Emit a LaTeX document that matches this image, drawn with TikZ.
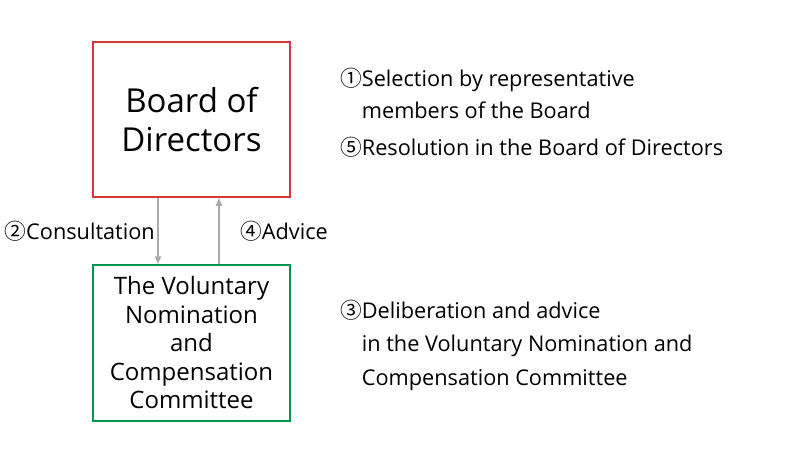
\documentclass[tikz,border=0pt]{standalone}
\usepackage{fontspec}
\setmainfont{Open Sans}
\newfontfamily\cjk{Noto Sans CJK JP}
\usetikzlibrary{arrows.meta}
\definecolor{boardred}{RGB}{214,56,56}
\definecolor{cmtgreen}{RGB}{0,150,80}
\definecolor{flowgray}{RGB}{170,170,170}
\tikzset{
  organ/.style={draw,line width=1.5pt,minimum width=197pt,align=center,inner sep=0pt},
  flow/.style={draw=flowgray,line width=1.8pt,-{Triangle[width=6pt,length=8pt]}},
  note/.style={anchor=base west,align=left,inner sep=0pt,font=\fontsize{21.7}{33.5}\selectfont}
}
\begin{document}
\begin{tikzpicture}[x=1pt,y=-1pt]
  \useasboundingbox[fill=white] (0,0) rectangle (800,450);
  % bodies
  \node[organ,draw=boardred,minimum height=155pt,font=\fontsize{33}{39}\selectfont]
    (board) at (191.5,119.5) {Board of\\Directors};
  \node[organ,draw=cmtgreen,minimum height=156pt,font=\fontsize{24}{28.5}\selectfont]
    (cmt) at (191.5,343) {The Voluntary\\Nomination\\and\\Compensation\\Committee\vspace{1pt}};
  % consultation and advice
  \draw[flow] ([xshift=-33.5pt]board.south) -- ([xshift=-33.5pt]cmt.north);
  \draw[flow] ([xshift=27.5pt]cmt.north) -- ([xshift=27.5pt]board.south);
  \node[note,anchor=base east] (consult) at (155,239) {{\cjk ②}Consultation};
  \node[note] (advice) at (240,239) {{\cjk ④}Advice};
  % steps
  \node[note,font=\fontsize{21.7}{32}\selectfont] (select) at (340,118)
    {{\cjk ①}Selection by representative\\\phantom{\cjk ①}members of the Board};
  \node[note] (resol) at (340,155) {{\cjk ⑤}Resolution in the Board of Directors};
  \node[note] (delib) at (340,385)
    {{\cjk ③}Deliberation and advice\\\phantom{\cjk ③}in the Voluntary Nomination and\\\phantom{\cjk ③}Compensation Committee};
\end{tikzpicture}
\end{document}
